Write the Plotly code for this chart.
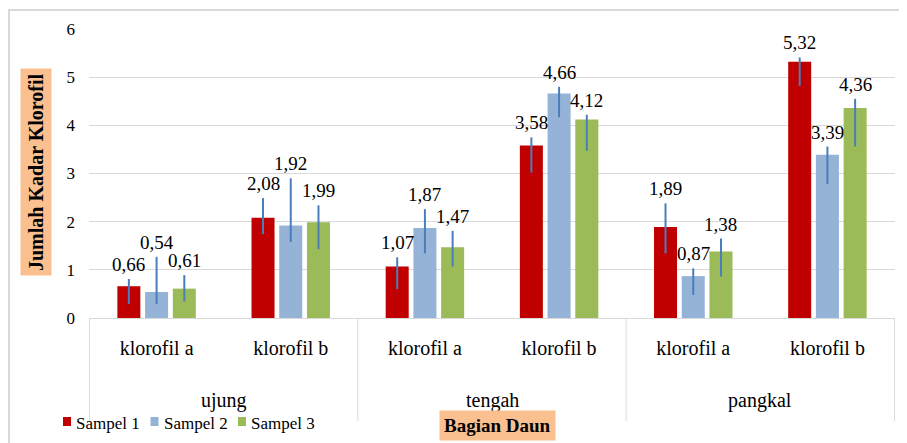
import plotly.graph_objects as go

parts = ["ujung", "ujung", "tengah", "tengah", "pangkal", "pangkal"]
pigments = ["klorofil a", "klorofil b", "klorofil a", "klorofil b", "klorofil a", "klorofil b"]
part_groups = ["ujung", "tengah", "pangkal"]

series_names = ["Sampel 1", "Sampel 2", "Sampel 3"]
colors = ["#C00000", "#95B3D7", "#9BBB59"]

sampel1 = [0.66, 2.08, 1.07, 3.58, 1.89, 5.32]
sampel2 = [0.54, 1.92, 1.87, 4.66, 0.87, 3.39]
sampel3 = [0.61, 1.99, 1.47, 4.12, 1.38, 4.36]

err_plus1 = [0.15, 0.41, 0.19, 0.17, 0.49, 0.09]
err_minus1 = [0.37, 0.34, 0.47, 0.56, 0.55, 0.50]
err_plus2 = [0.73, 0.98, 0.39, 0.14, 0.16, 0.17]
err_minus2 = [0.25, 0.34, 0.53, 0.49, 0.39, 0.61]
err_plus3 = [0.28, 0.35, 0.34, 0.10, 0.27, 0.19]
err_minus3 = [0.27, 0.56, 0.40, 0.65, 0.52, 0.80]

values = [sampel1, sampel2, sampel3]
plus = [err_plus1, err_plus2, err_plus3]
minus = [err_minus1, err_minus2, err_minus3]

FONT = "'Liberation Serif', 'Times New Roman', Times, serif"
BARGAP = 0.38
GROUPGAP = 0.17

# the page body adds an 8 px offset, so the figure is drawn 8 px smaller
OFF = 8
W, H = 907 - OFF, 443 - OFF
L, R, T, B = 89 - OFF, 12, 29 - OFF, 125
PW, PH = W - L - R, H - T - B


def px_x(px):
    """page pixel x -> paper coordinate"""
    return (px - OFF - L) / PW


def px_y(py):
    """page pixel y -> paper coordinate"""
    return (T + PH - (py - OFF)) / PH


x_keys = [f"{p} | {g}" for p, g in zip(parts, pigments)]

fig = go.Figure()
for k in range(3):
    fig.add_trace(go.Bar(
        x=x_keys, y=values[k], name=series_names[k],
        marker=dict(color=colors[k], line=dict(width=0)),
        error_y=dict(type="data", symmetric=False, array=plus[k], arrayminus=minus[k],
                     color="#4A7EBB", thickness=2, width=0),
        showlegend=False,
    ))

annotations = []
shapes = []
slot = (1 - BARGAP) / 3
for k in range(3):
    for i, v in enumerate(values[k]):
        annotations.append(dict(
            x=i + (k - 1) * slot, y=v + plus[k][i], xref="x", yref="y",
            text=f"{v:.2f}".replace(".", ","), showarrow=False,
            yanchor="bottom", yshift=2, font=dict(family=FONT, size=19, color="#000000"),
        ))

# outer category labels and dividers
n_per_group = len(parts) // len(part_groups)
for gi, g in enumerate(part_groups):
    annotations.append(dict(
        x=gi * n_per_group + (n_per_group - 1) / 2, y=px_y(400), xref="x", yref="paper",
        text=g, showarrow=False, yanchor="middle",
        font=dict(family=FONT, size=20, color="#000000"),
    ))
for gi in range(len(part_groups) + 1):
    shapes.append(dict(type="line", xref="x", yref="paper",
                       x0=gi * n_per_group - 0.5, x1=gi * n_per_group - 0.5,
                       y0=0, y1=px_y(421), line=dict(color="#D9D9D9", width=1)))

# axis titles
annotations.append(dict(
    x=px_x(36.5), y=px_y(172.5), xref="paper", yref="paper", text="<b>Jumlah Kadar Klorofil</b>",
    textangle=-90, showarrow=False, bgcolor="#FAC090", borderpad=4,
    font=dict(family=FONT, size=20, color="#000000"), xanchor="center", yanchor="middle",
))
annotations.append(dict(
    x=px_x(497), y=px_y(425), xref="paper", yref="paper", text="<b>Bagian Daun</b>",
    showarrow=False, bgcolor="#FAC090", borderpad=4,
    font=dict(family=FONT, size=19, color="#000000"), xanchor="center", yanchor="middle",
))

# legend
for k in range(3):
    x0 = 63 + k * 87.5
    shapes.append(dict(type="rect", xref="paper", yref="paper",
                       x0=px_x(x0), x1=px_x(x0 + 8), y0=px_y(426), y1=px_y(417),
                       fillcolor=colors[k], line=dict(width=0)))
    annotations.append(dict(
        x=px_x(x0 + 11), y=px_y(423), xref="paper", yref="paper", text=series_names[k],
        showarrow=False, xanchor="left", yanchor="middle",
        font=dict(family=FONT, size=17, color="#000000"),
    ))

# chart border (top and left edges visible in the frame)
shapes.append(dict(type="rect", xref="paper", yref="paper",
                   x0=px_x(9), x1=px_x(960), y0=px_y(500), y1=px_y(10),
                   line=dict(color="#D9D9D9", width=2), layer="below"))

fig.update_layout(
    width=W, height=H,
    margin=dict(l=L, r=R, t=T, b=B, autoexpand=False),
    paper_bgcolor="white", plot_bgcolor="white",
    barmode="group", bargap=BARGAP, bargroupgap=GROUPGAP,
    font=dict(family=FONT, size=18, color="#000000"),
    showlegend=False,
    annotations=annotations,
    shapes=shapes,
)
fig.update_yaxes(range=[0, 6], dtick=1, showgrid=True, gridcolor="#D9D9D9", gridwidth=1,
                 zeroline=False, showline=False, ticklabelstandoff=13, automargin=False,
                 tickfont=dict(family=FONT, size=17, color="#000000"))
fig.update_xaxes(type="category", showline=True, linecolor="#D9D9D9", linewidth=1,
                 tickvals=x_keys, ticktext=pigments, ticks="", ticklabelstandoff=12,
                 automargin=False, showgrid=False,
                 tickfont=dict(family=FONT, size=20, color="#000000"))

fig.write_html("out.html")
